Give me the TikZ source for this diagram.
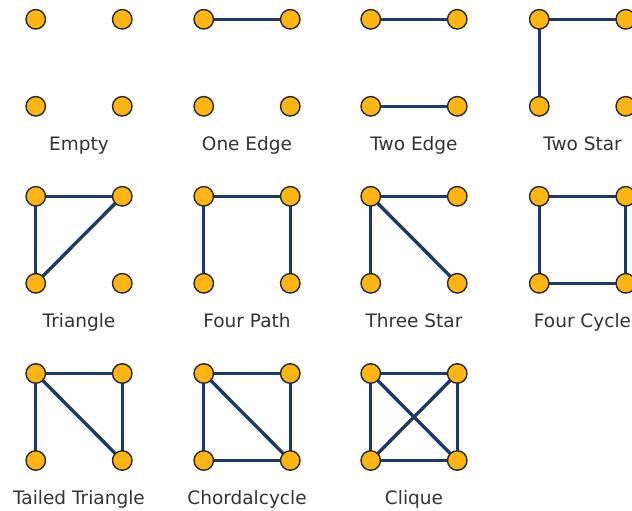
\documentclass[tikz,border=0pt]{standalone}
\usepackage{fontspec}
\setmainfont{DejaVu Sans}
\definecolor{navy}{HTML}{1E3B68}
\definecolor{vfill}{HTML}{FDB515}
\definecolor{vline}{HTML}{2A2A2A}
\definecolor{txt}{HTML}{333333}
\pgfdeclarelayer{bg}
\pgfsetlayers{bg,main}
\tikzset{
  vx/.style={circle, fill=vfill, draw=vline, line width=1.4pt, minimum size=19.5pt, inner sep=0pt},
  lbl/.style={anchor=base, text=txt, font=\fontsize{18.5}{22}\selectfont, inner sep=0pt},
  edge/.style={draw=navy, line width=3.4pt}
}
\newcommand\gpanel[4]{%
  \node[vx] (#1a) at (#2-43.25,#3) {};
  \node[vx] (#1b) at (#2+43.25,#3) {};
  \node[vx] (#1c) at (#2-43.25,#3+87) {};
  \node[vx] (#1d) at (#2+43.25,#3+87) {};
  \node[lbl] (#1l) at (#2,#3+131) {#4};
}
\newcommand\gedges[2]{%
  \begin{pgfonlayer}{bg}
  \foreach \u/\v in {#2} {\draw[edge] (#1\u.center) -- (#1\v.center);}
  \end{pgfonlayer}
}
\begin{document}
\begin{tikzpicture}[x=1pt,y=-1pt]
\clip (0,0) rectangle (632,511);
% row 1
\gpanel{p}{79}{19.3}{Empty}
\gpanel{q}{247}{19.3}{One Edge}
\gedges{q}{a/b}
\gpanel{r}{414}{19.3}{Two Edge}
\gedges{r}{a/b,c/d}
\gpanel{s}{582.5}{19.3}{Two Star}
\gedges{s}{a/b,a/c}
% row 2
\gpanel{t}{79}{196.3}{Triangle}
\gedges{t}{a/b,a/c,b/c}
\gpanel{u}{247}{196.3}{Four Path}
\gedges{u}{a/b,a/c,b/d}
\gpanel{v}{414}{196.3}{Three Star}
\gedges{v}{a/b,a/c,a/d}
\gpanel{w}{582.5}{196.3}{Four Cycle}
\gedges{w}{a/b,b/d,d/c,c/a}
% row 3
\gpanel{x}{79}{373.5}{Tailed Triangle}
\gedges{x}{a/b,a/c,a/d,b/d}
\gpanel{y}{247}{373.5}{Chordalcycle}
\gedges{y}{a/b,a/c,a/d,b/d,c/d}
\gpanel{z}{414}{373.5}{Clique}
\gedges{z}{a/b,a/c,a/d,b/c,b/d,c/d}
\end{tikzpicture}
\end{document}
